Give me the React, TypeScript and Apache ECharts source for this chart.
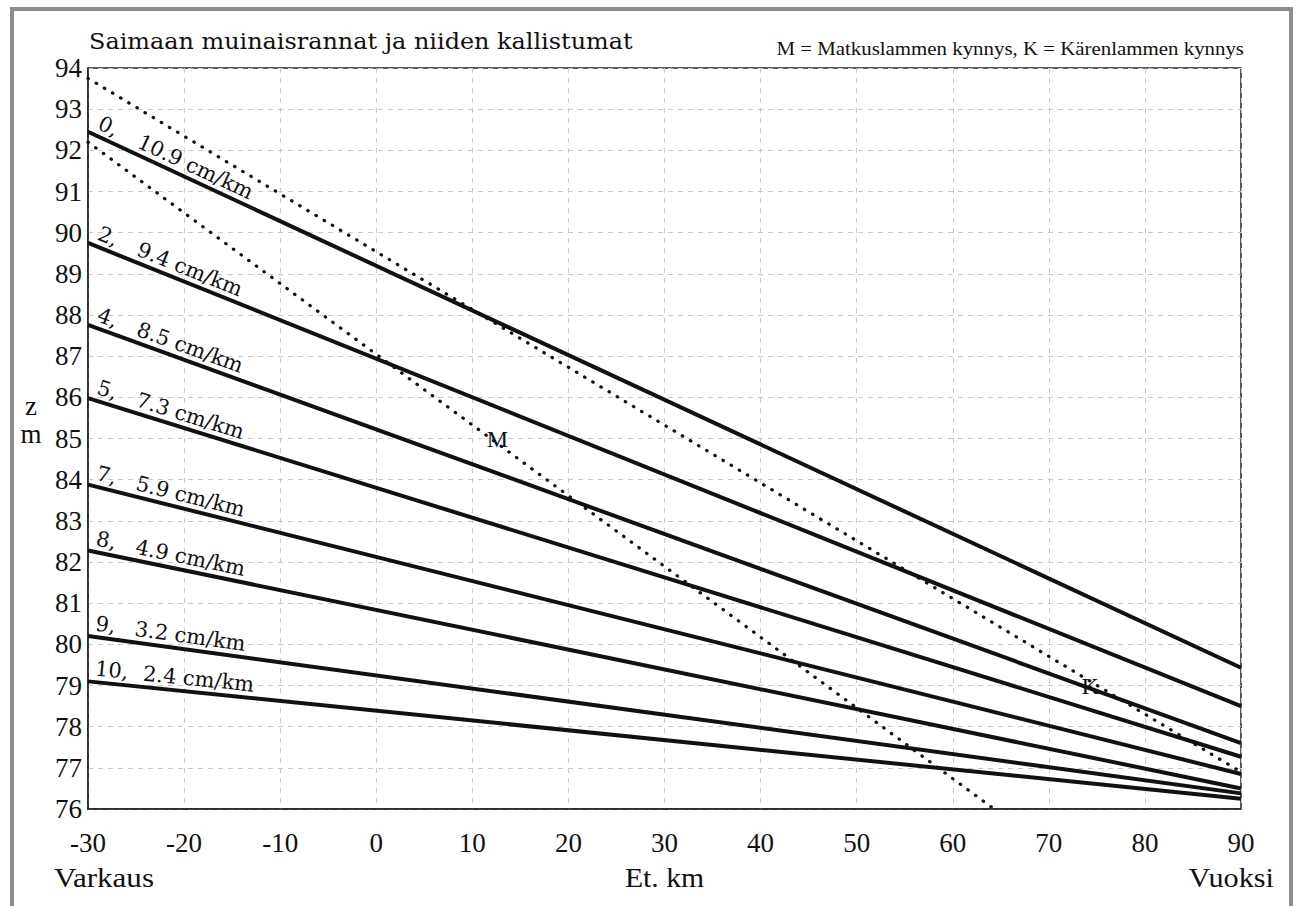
import React, { useEffect, useRef } from "react";
import * as echarts from "echarts";

// ---- data ----
const xMin = -30;
const xMax = 90;
const yMin = 76;
const yMax = 94;
const shoreIds = ["0", "2", "4", "5", "7", "8", "9", "10"];
const tiltRates = ["10.9", "9.4", "8.5", "7.3", "5.9", "4.9", "3.2", "2.4"];
const levelsAtVarkaus = [92.45, 89.75, 87.76, 85.98, 83.88, 82.28, 80.2, 79.1];
const levelsAtVuoksi = [79.43, 78.5, 77.6, 77.27, 76.85, 76.5, 76.38, 76.25];
const thresholdKLine = [
  [-30, 93.75],
  [90, 76.9],
];
const thresholdMLine = [
  [-30, 92.2],
  [64.3, 76],
];
const markerM = [12.6, 85.0];
const markerK = [74.3, 79.0];

const titleText = "Saimaan muinaisrannat ja niiden kallistumat";
const noteText = "M = Matkuslammen kynnys, K = Kärenlammen kynnys";

const SERIF = '"Liberation Serif", "Times New Roman", serif';
const WIDE = '"DejaVu Serif", serif';

function txt(text: string, x: number, y: number, size: number, align: string, valign: string, extra: any = {}, family = SERIF) {
  return {
    type: "text",
    x,
    y,
    z: 100,
    silent: true,
    ...extra,
    style: {
      text,
      font: `${size}px ${family}`,
      fill: "#111",
      align,
      verticalAlign: valign,
      textAlign: align,
      textVerticalAlign: valign,
    },
  };
}

export default function App() {
  const ref = useRef<HTMLDivElement>(null);

  useEffect(() => {
    if (!ref.current) return;
    const chart = echarts.init(ref.current, undefined, { renderer: "svg" });

    const shoreSeries = shoreIds.map((id, i) => ({
      type: "line",
      name: `shore ${id}`,
      data: [
        [xMin, levelsAtVarkaus[i]],
        [xMax, levelsAtVuoksi[i]],
      ],
      symbol: "none",
      silent: true,
      lineStyle: { color: "#111", width: 4 },
      z: 5,
    }));

    const dotted = (name: string, data: number[][]) => ({
      type: "line",
      name,
      data,
      symbol: "none",
      silent: true,
      lineStyle: { color: "#111", width: 3.2, type: [0.5, 9], cap: "round" },
      z: 4,
    });

    chart.setOption({
      animation: false,
      backgroundColor: "#fff",
      grid: {
        left: 88,
        right: 58,
        top: 68,
        bottom: 97,
        show: true,
        borderColor: "#222",
        borderWidth: 1.5,
      },
      xAxis: {
        type: "value",
        min: xMin,
        max: xMax,
        interval: 10,
        axisLine: { show: true, onZero: false, lineStyle: { color: "#222", width: 1.5 } },
        axisTick: { show: false },
        splitLine: { show: true, lineStyle: { color: "#c8c8c8", width: 1, type: [5, 5] } },
        axisLabel: {
          color: "#111",
          fontFamily: SERIF,
          fontSize: 27,
          margin: 20,
          formatter: (v: number) => String(v),
        },
      },
      yAxis: {
        type: "value",
        min: yMin,
        max: yMax,
        interval: 1,
        axisLine: { show: true, onZero: false, lineStyle: { color: "#222", width: 1.5 } },
        axisTick: { show: false },
        splitLine: { show: true, lineStyle: { color: "#c8c8c8", width: 1, type: [5, 5] } },
        axisLabel: {
          color: "#111",
          fontFamily: SERIF,
          fontSize: 27,
          margin: 6,
          padding: [8, 0, 0, 0],
        },
      },
      series: [
        ...shoreSeries,
        dotted("K threshold", thresholdKLine),
        dotted("M threshold", thresholdMLine),
      ],
    });

    const toPx = (p: number[]) => chart.convertToPixel({ gridIndex: 0 }, p) as number[];
    const elements: any[] = [];

    // outer frame
    elements.push({
      type: "rect",
      shape: { x: 12, y: 9, width: 1279, height: 920 },
      style: { fill: "none", stroke: "#8c8c8c", lineWidth: 4 },
      silent: true,
      z: 90,
    });

    // title & note
    elements.push(txt(titleText, 89, 41, 23, "left", "middle", { scaleX: 1.04 }, WIDE));
    elements.push(txt(noteText, 1244, 49, 18, "right", "middle", { scaleX: 1.16 }));

    // shore line labels
    shoreIds.forEach((id, i) => {
      const a = [xMin, levelsAtVarkaus[i]];
      const b = [xMax, levelsAtVuoksi[i]];
      const pa = toPx(a);
      const pb = toPx(b);
      const dx = pb[0] - pa[0];
      const dy = pb[1] - pa[1];
      const len = Math.hypot(dx, dy);
      const nx = dy / len;
      const ny = -dx / len;
      const rot = -Math.atan2(dy, dx);
      const at = (xv: number, off: number) => {
        const t = (xv - xMin) / (xMax - xMin);
        const p = toPx([xv, a[1] + (b[1] - a[1]) * t]);
        return [p[0] + nx * off, p[1] + ny * off];
      };
      const p1 = at(-29.4, 3);
      const p2 = at(id.length > 1 ? -24.4 : -25.3, 3);
      elements.push(txt(`${id},`, p1[0], p1[1], 21, "left", "bottom", { rotation: rot }, WIDE));
      elements.push(txt(`${tiltRates[i]} cm/km`, p2[0], p2[1], 21, "left", "bottom", { rotation: rot }, WIDE));
    });

    // M and K markers
    const pm = toPx(markerM);
    const pk = toPx(markerK);
    elements.push(txt("M", pm[0], pm[1], 24, "center", "middle"));
    elements.push(txt("K", pk[0], pk[1], 24, "center", "middle"));

    // axis titles
    const zPos = toPx([xMin, 85.5]);
    elements.push(txt("z", 31, zPos[1] - 12, 27, "center", "middle"));
    elements.push(txt("m", 31, zPos[1] + 16, 27, "center", "middle"));
    const left = toPx([xMin, yMin]);
    const right = toPx([xMax, yMin]);
    const mid = toPx([30, yMin]);
    elements.push(txt("Varkaus", left[0] - 34, left[1] + 69, 27, "left", "middle", { scaleX: 1.15 }));
    elements.push(txt("Et. km", mid[0], left[1] + 69, 27, "center", "middle", { scaleX: 1.1 }));
    elements.push(txt("Vuoksi", right[0] + 33, right[1] + 69, 27, "right", "middle", { scaleX: 1.12 }));

    chart.setOption({ graphic: { elements } });

    return () => chart.dispose();
  }, []);

  return (
    <div
      ref={ref}
      style={{ position: "fixed", left: 0, top: 0, width: 1299, height: 906, background: "#fff" }}
    />
  );
}
